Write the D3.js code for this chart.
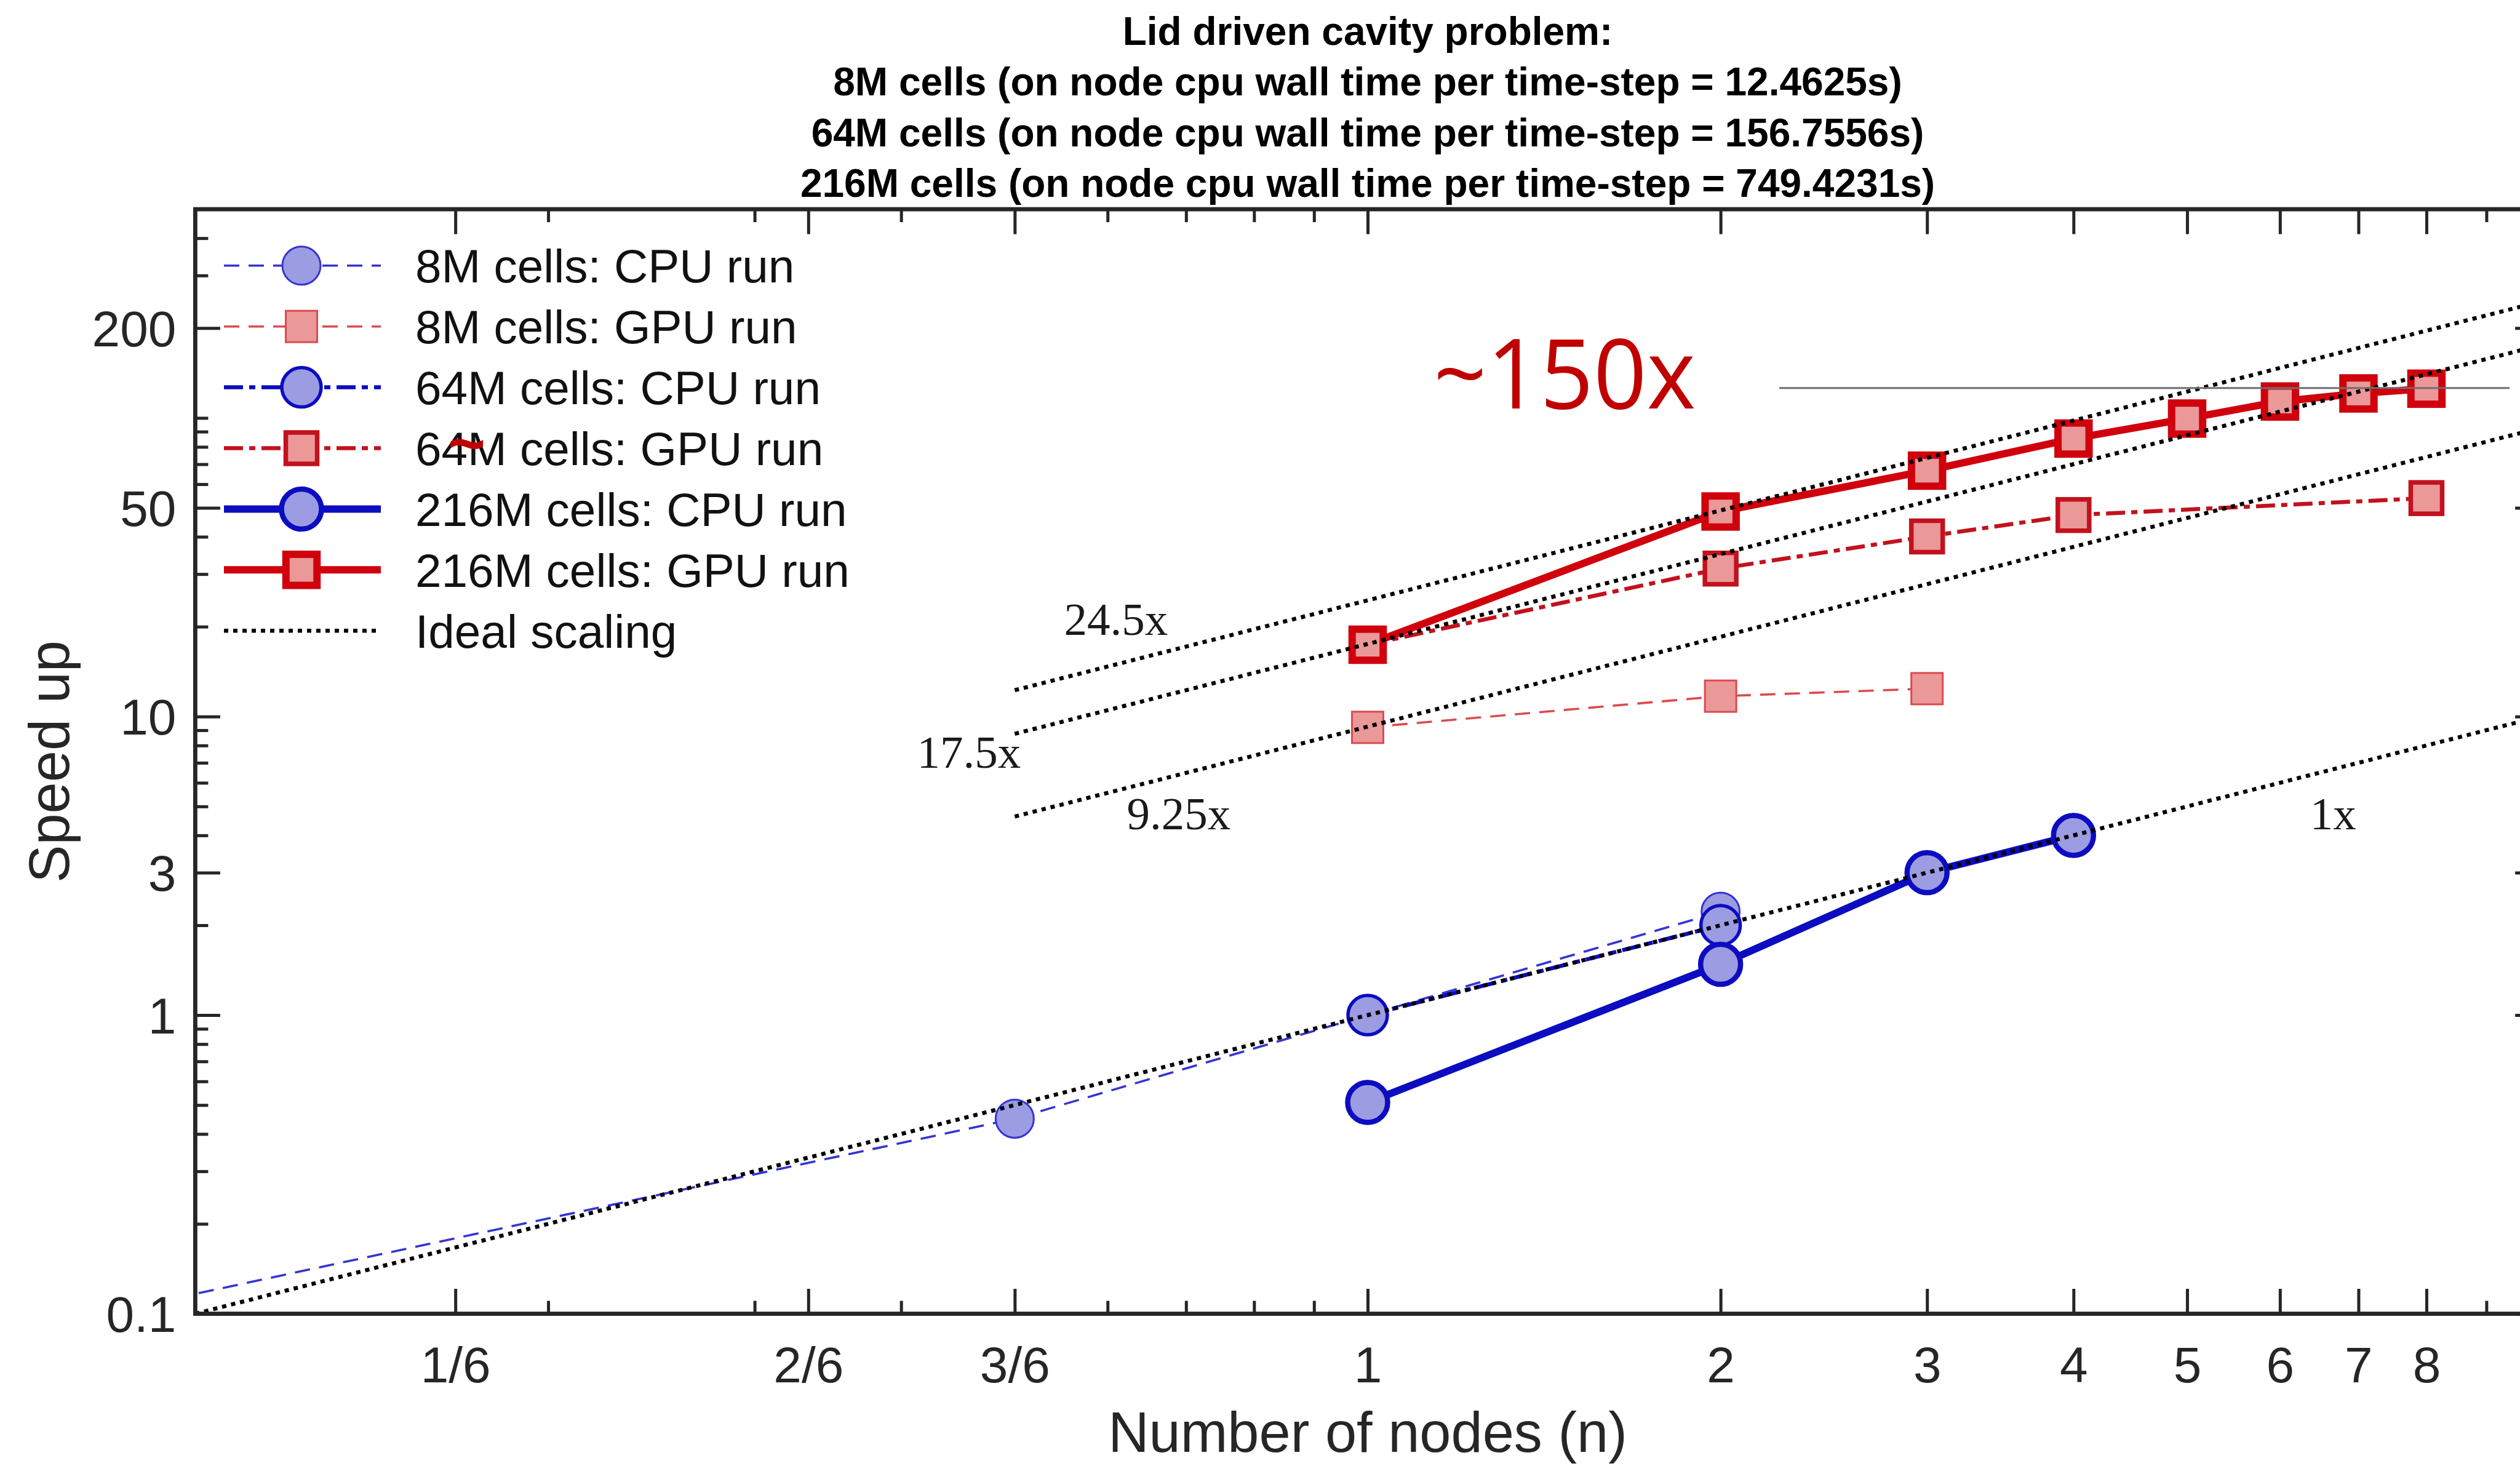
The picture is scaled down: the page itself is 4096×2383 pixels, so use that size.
<!DOCTYPE html>
<html>
<head>
<meta charset="utf-8">
<script src="https://cdn.jsdelivr.net/npm/d3@7"></script>
<style>
    html, body { margin: 0; padding: 0; background: #fff; overflow: hidden; }
    svg { display: block; }
</style>
</head>
<body>
<div id="chart"></div>
<script>
// values (speed up vs number of nodes)
const nodes_8m_cpu = [1/12, 3/6, 1, 2];
const speedup_8m_cpu = [0.1, 0.45, 1.0, 2.22];

const nodes_8m_gpu = [1, 2, 3];
const speedup_8m_gpu = [9.2, 11.7, 12.4];

const nodes_64m_cpu = [1, 2];
const speedup_64m_cpu = [1.0, 2.0];

const nodes_64m_gpu = [1, 2, 3, 4, 8];
const speedup_64m_gpu = [17.4, 31.3, 40.1, 47.3, 53.9];

const nodes_216m_cpu = [1, 2, 3, 4];
const speedup_216m_cpu = [0.51, 1.48, 3.0, 4.0];

const nodes_216m_gpu = [1, 2, 3, 4, 5, 6, 7, 8];
const speedup_216m_gpu = [17.4, 48.6, 66.6, 85.3, 99.5, 113.5, 120.8, 125.3];

const series_names = ["8M cells: CPU run", "8M cells: GPU run", "64M cells: CPU run",
                      "64M cells: GPU run", "216M cells: CPU run", "216M cells: GPU run"];

// ideal scaling lines: speed up = factor * n
const ideal_factors = [1, 9.25, 17.5, 24.5];
const ideal_from = [0.1, 0.5, 0.5, 0.5];
const ideal_to = 10;
const ideal_labels = ["1x", "9.25x", "17.5x", "24.5x"];
const ideal_label_n = [6.66, 0.69, 0.457, 0.61];
const ideal_label_s = [4.19, 4.19, 6.73, 18.77];

const x_tick_values = [1/6, 2/6, 3/6, 1, 2, 3, 4, 5, 6, 7, 8];
const x_tick_labels = ["1/6", "2/6", "3/6", "1", "2", "3", "4", "5", "6", "7", "8"];
const y_tick_values = [0.1, 1, 3, 10, 50, 200];
const y_tick_labels = ["0.1", "1", "3", "10", "50", "200"];

const title_lines = [
    "Lid driven cavity problem:",
    "8M cells (on node cpu wall time per time-step = 12.4625s)",
    "64M cells (on node cpu wall time per time-step = 156.7556s)",
    "216M cells (on node cpu wall time per time-step = 749.4231s)"
];

const highlight_text = "~150x";
const highlight_level = 126;
const highlight_n = [1.138, 2.244, 9.42];   // text start, line start, line end


const W = 4096, H = 2383;
const plot = {left: 317.4, right: 4128.6, top: 340.1, bottom: 2135.5};
const SANS = "'Liberation Sans', Arial, Helvetica, sans-serif";
const AXIS_COLOR = "#262626";

const BLUE = "#0c0cc0", BLUE_LIGHT = "#3434d4", BLUE_FACE = "#9c9ce2";
const RED = "#d0000c", RED_MID = "#c2121e", RED_LIGHT = "#dc4a50", RED_FACE = "#ea9898";

const styles = [
    {shape: "circle", color: BLUE_LIGHT, width: 3.6, dash: "25,15", edge: 3, size: 31},
    {shape: "square", color: RED_LIGHT, width: 3.6, dash: "25,15", edge: 3, size: 51},
    {shape: "circle", color: BLUE, width: 6.5, dash: "31,10,10,10", edge: 5.5, size: 32},
    {shape: "square", color: RED_MID, width: 6.5, dash: "31,10,10,10", edge: 7.5, size: 51},
    {shape: "circle", color: BLUE, width: 12, dash: null, edge: 8.5, size: 32.5},
    {shape: "square", color: RED, width: 12, dash: null, edge: 12, size: 50.5}
];

function build_series(){
    const cols = [
        [nodes_8m_cpu, speedup_8m_cpu], [nodes_8m_gpu, speedup_8m_gpu],
        [nodes_64m_cpu, speedup_64m_cpu], [nodes_64m_gpu, speedup_64m_gpu],
        [nodes_216m_cpu, speedup_216m_cpu], [nodes_216m_gpu, speedup_216m_gpu]
    ];
    return cols.map((c, i) => ({
        name: series_names[i],
        points: c[0].map((n, j) => [n, c[1][j]]),
        style: styles[i],
        face: styles[i].shape === "circle" ? BLUE_FACE : RED_FACE
    }));
}

function draw_markers(g, pts, s, face){
    if(s.shape === "circle"){
        g.selectAll(null).data(pts).join("circle")
            .attr("cx", d => d[0]).attr("cy", d => d[1])
            .attr("r", s.size)
            .attr("fill", face).attr("stroke", s.color).attr("stroke-width", s.edge);
    } else {
        g.selectAll(null).data(pts).join("rect")
            .attr("x", d => d[0] - s.size / 2).attr("y", d => d[1] - s.size / 2)
            .attr("width", s.size).attr("height", s.size)
            .attr("fill", face).attr("stroke", s.color).attr("stroke-width", s.edge);
    }
}

function setup(){
    const svg = d3.select("#chart").append("svg").attr("width", W).attr("height", H)
        .style("font-family", SANS);

    const x = d3.scaleLog().domain([0.1, 10]).range([plot.left, plot.right]);
    const y = d3.scaleLog().domain([0.1, 500]).range([plot.bottom, plot.top]);

    svg.append("defs").append("clipPath").attr("id", "plot-clip")
        .append("rect")
        .attr("x", plot.left).attr("y", plot.top)
        .attr("width", plot.right - plot.left).attr("height", plot.bottom - plot.top);

    // title
    svg.append("g").selectAll("text").data(title_lines).join("text")
        .attr("x", x(1)).attr("y", (d, i) => 73 + i * 82.3)
        .attr("text-anchor", "middle")
        .attr("font-size", 64).attr("font-weight", "bold").attr("fill", "#000")
        .text(d => d);

    // axes: labelled ticks long, the rest short, all pointing inside
    const near = (a, list) => list.some(b => Math.abs(Math.log(a / b)) < 1e-6);
    const x_minor = x.ticks().filter(t => !near(t, x_tick_values) && t > 0.1 && t < 10);
    const y_minor = y.ticks().filter(t => !near(t, y_tick_values) && t > 0.1 && t < 500);

    const axes = svg.append("g").attr("class", "axes");
    const major = 40.5, minor = 21, pad = 31;

    axes.append("g").attr("transform", `translate(0,${plot.bottom})`)
        .call(d3.axisBottom(x).tickValues(x_tick_values).tickFormat((d, i) => x_tick_labels[i])
            .tickSizeInner(-major).tickSizeOuter(0).tickPadding(0));
    axes.append("g").attr("transform", `translate(0,${plot.bottom})`)
        .call(d3.axisBottom(x).tickValues(x_minor).tickFormat("").tickSizeInner(-minor).tickSizeOuter(0));
    axes.append("g").attr("transform", `translate(0,${plot.top})`)
        .call(d3.axisTop(x).tickValues(x_tick_values).tickFormat("").tickSizeInner(-major).tickSizeOuter(0));
    axes.append("g").attr("transform", `translate(0,${plot.top})`)
        .call(d3.axisTop(x).tickValues(x_minor).tickFormat("").tickSizeInner(-minor).tickSizeOuter(0));

    axes.append("g").attr("transform", `translate(${plot.left},0)`)
        .call(d3.axisLeft(y).tickValues(y_tick_values).tickFormat((d, i) => y_tick_labels[i])
            .tickSizeInner(-major).tickSizeOuter(0).tickPadding(pad));
    axes.append("g").attr("transform", `translate(${plot.left},0)`)
        .call(d3.axisLeft(y).tickValues(y_minor).tickFormat("").tickSizeInner(-minor).tickSizeOuter(0));
    axes.append("g").attr("transform", `translate(${plot.right},0)`)
        .call(d3.axisRight(y).tickValues(y_tick_values).tickFormat("").tickSizeInner(-major).tickSizeOuter(0));
    axes.append("g").attr("transform", `translate(${plot.right},0)`)
        .call(d3.axisRight(y).tickValues(y_minor).tickFormat("").tickSizeInner(-minor).tickSizeOuter(0));

    axes.selectAll(".domain").remove();
    axes.selectAll(".tick line").attr("stroke", AXIS_COLOR).attr("stroke-width", 5);
    axes.selectAll(".tick text").attr("fill", AXIS_COLOR).attr("font-size", 82)
        .attr("font-family", SANS);
    // bottom labels: baseline under the axis
    axes.selectAll("g:first-child .tick text").attr("dy", null).attr("y", 111.5);
    axes.selectAll(".tick text").filter(function(){ return this.getAttribute("x") !== null && +this.getAttribute("x") < 0; })
        .attr("dy", "0.355em");

    // data lines
    const series = build_series();
    const line = d3.line().x(d => x(d[0])).y(d => y(d[1]));
    const data_g = svg.append("g");
    series.forEach(s => {
        data_g.append("path")
            .attr("d", line(s.points))
            .attr("clip-path", "url(#plot-clip)")
            .attr("fill", "none")
            .attr("stroke", s.style.color)
            .attr("stroke-width", s.style.width)
            .attr("stroke-dasharray", s.style.dash)
            .attr("stroke-linejoin", "round");
        const inside = s.points.filter(p => p[0] >= 0.1 && p[0] <= 10)
            .map(p => [x(p[0]), y(p[1])]);
        draw_markers(data_g.append("g"), inside, s.style, s.face);
    });

    // ideal scaling lines on top
    const ideal_g = svg.append("g").attr("clip-path", "url(#plot-clip)");
    ideal_factors.forEach((f, i) => {
        ideal_g.append("path")
            .attr("d", line([[ideal_from[i], f * ideal_from[i]], [ideal_to, f * ideal_to]]))
            .attr("fill", "none").attr("stroke", "#000")
            .attr("stroke-width", 6.5).attr("stroke-dasharray", "7,8");
    });
    svg.append("g").selectAll("text").data(ideal_labels).join("text")
        .attr("x", (d, i) => x(ideal_label_n[i])).attr("y", (d, i) => y(ideal_label_s[i]))
        .attr("text-anchor", "middle")
        .attr("font-family", "'Liberation Serif', 'Times New Roman', serif")
        .attr("font-size", 75).attr("fill", "#1a1a1a")
        .text(d => d);

    // box
    svg.append("rect")
        .attr("x", plot.left).attr("y", plot.top)
        .attr("width", plot.right - plot.left).attr("height", plot.bottom - plot.top)
        .attr("fill", "none").attr("stroke", AXIS_COLOR).attr("stroke-width", 6.8);

    // axis titles
    svg.append("text")
        .attr("x", x(1)).attr("y", 2360)
        .attr("text-anchor", "middle").attr("font-size", 92).attr("fill", AXIS_COLOR)
        .text("Number of nodes (n)");
    svg.append("text")
        .attr("transform", "translate(112,1238) rotate(-90)")
        .attr("text-anchor", "middle").attr("font-size", 92).attr("fill", AXIS_COLOR)
        .text("Speed up");

    // legend
    const legend = svg.append("g");
    const row0 = 431.8, step = 98.9;
    series.forEach((s, i) => {
        const cy = row0 + i * step;
        legend.append("line")
            .attr("x1", 364).attr("x2", 619).attr("y1", cy).attr("y2", cy)
            .attr("stroke", s.style.color).attr("stroke-width", s.style.width)
            .attr("stroke-dasharray", s.style.dash);
        draw_markers(legend.append("g"), [[490, cy]], s.style, s.face);
        legend.append("text").attr("x", 675).attr("y", cy).attr("dy", "0.36em")
            .attr("font-size", 76.5).attr("fill", "#111").text(s.name);
    });
    const ideal_row = row0 + series.length * step;
    legend.append("line")
        .attr("x1", 364).attr("x2", 619).attr("y1", ideal_row).attr("y2", ideal_row)
        .attr("stroke", "#000").attr("stroke-width", 6.5).attr("stroke-dasharray", "7,8");
    legend.append("text").attr("x", 675).attr("y", ideal_row).attr("dy", "0.36em")
        .attr("font-size", 76.5).attr("fill", "#111").text("Ideal scaling");

    // stray red mark over the 64M GPU legend entry (present in the original)
    legend.append("text")
        .attr("x", 758.6).attr("y", 755.7).attr("text-anchor", "middle")
        .attr("font-size", 104).attr("font-weight", "bold").attr("fill", "#c00000")
        .text("~");

    // ~150x callout
    svg.append("text")
        .attr("x", x(highlight_n[0])).attr("y", 663.5)
        .attr("font-family", "'Open Sans', 'Noto Sans', sans-serif")
        .attr("font-size", 157).attr("fill", "#c00000")
        .attr("textLength", 426).attr("lengthAdjust", "spacingAndGlyphs")
        .text(highlight_text);
    svg.append("line")
        .attr("x1", x(highlight_n[1])).attr("x2", x(highlight_n[2]))
        .attr("y1", y(highlight_level)).attr("y2", y(highlight_level))
        .attr("stroke", "#6e6e6e").attr("stroke-width", 3);
}

setup();
</script>
</body>
</html>
